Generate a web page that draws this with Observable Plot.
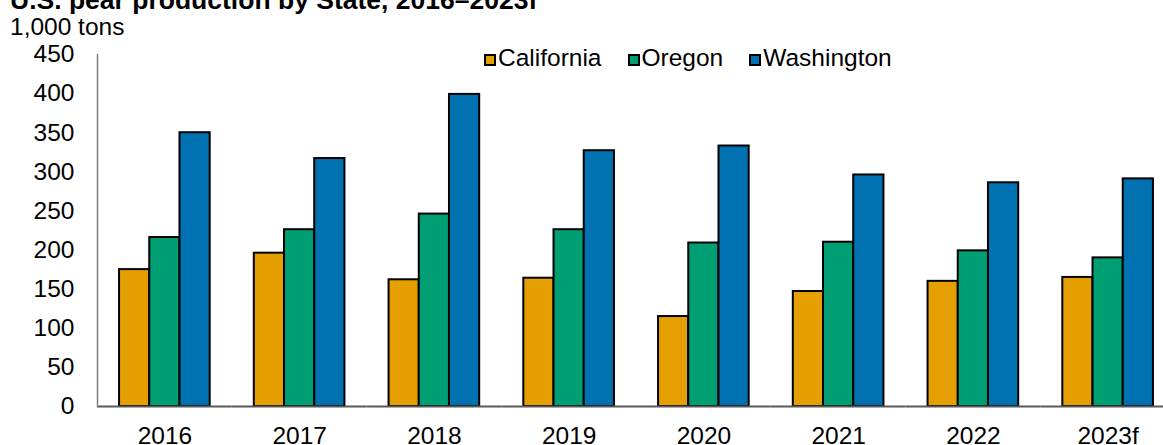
<!DOCTYPE html>
<html>
<head>
<meta charset="utf-8">
<script src="https://cdn.jsdelivr.net/npm/d3@7"></script>
<script src="https://cdn.jsdelivr.net/npm/@observablehq/plot@0.6"></script>
<style>
  html, body { margin: 0; padding: 0; background: #fff; overflow: hidden; }
  #wrap { position: relative; width: 1163px; height: 445px; overflow: hidden;
          font-family: "Liberation Sans", Arial, sans-serif; color: #000; }
  #header { position: relative; height: 38px; }
  #title { position: absolute; left: 10px; top: -13px; font-size: 26.5px; font-weight: bold;
           line-height: 1; white-space: nowrap; }
  #unit { position: absolute; left: 10px; top: 15px; font-size: 24.5px; line-height: 1; white-space: nowrap; }
  #legend { position: absolute; left: 484px; top: 46px; font-size: 24.5px; line-height: 1;
            display: flex; gap: 26px; white-space: nowrap; z-index: 2; }
  #legend .item { display: flex; align-items: baseline; }
  #legend .sw { display: inline-block; width: 12px; height: 12px; box-sizing: border-box;
                border: 2px solid #000; margin-right: 2px; }
  #chart svg { display: block; }
</style>
</head>
<body>
<div id="wrap">
  <div id="header">
    <div id="title">U.S. pear production by State, 2016–2023f</div>
    <div id="unit">1,000 tons</div>
  </div>
  <div id="legend"></div>
  <div id="chart"></div>
</div>
<script>
const years = ["2016", "2017", "2018", "2019", "2020", "2021", "2022", "2023f"];
const states = ["California", "Oregon", "Washington"];
const california = [175, 196, 162, 164, 115, 147, 160, 165];
const oregon = [216, 226, 246, 226, 209, 210, 199, 190];
const washington = [350, 317, 399, 327, 333, 296, 286, 291];
const colors = ["#E69F00", "#009E73", "#0072B2"];
const yTicks = [0, 50, 100, 150, 200, 250, 300, 350, 400, 450];

const series = [california, oregon, washington];
const data = [];
years.forEach((yr, i) => {
  states.forEach((st, j) => data.push({year: yr, state: st, value: series[j][i]}));
});

const legend = document.getElementById("legend");
states.forEach((st, j) => {
  const item = document.createElement("div");
  item.className = "item";
  const sw = document.createElement("span");
  sw.className = "sw";
  sw.style.background = colors[j];
  const lab = document.createElement("span");
  lab.textContent = st;
  item.appendChild(sw);
  item.appendChild(lab);
  legend.appendChild(item);
});

const chart = Plot.plot({
  width: 1163,
  height: 407,
  marginTop: 16,
  marginBottom: 39,
  marginLeft: 97,
  marginRight: -12,
  style: {fontFamily: "'Liberation Sans', Arial, sans-serif", fontSize: "24.5px", color: "#000", background: "white"},
  fx: {domain: years, paddingInner: 0, paddingOuter: 0, round: false, axis: null, label: null},
  x: {domain: states, paddingInner: 0, paddingOuter: 0.73, round: false, axis: null},
  y: {domain: [0, 450], axis: null},
  color: {domain: states, range: colors},
  marks: [
    Plot.barY(data, {fx: "year", x: "state", y: "value", fill: "state", stroke: "#000", strokeWidth: 2}),
    Plot.ruleY([0], {stroke: "#595959", strokeWidth: 2}),
    Plot.frame({anchor: "left", facetAnchor: "left", stroke: "#7f7f7f", strokeWidth: 1.5}),
    Plot.axisY({ticks: yTicks, tickSize: 0, tickPadding: 23, label: null, tickFormat: d => String(d)}),
    Plot.axisFx({anchor: "bottom", tickSize: 0, tickPadding: 20, label: null})
  ]
});
document.getElementById("chart").appendChild(chart);
</script>
</body>
</html>
